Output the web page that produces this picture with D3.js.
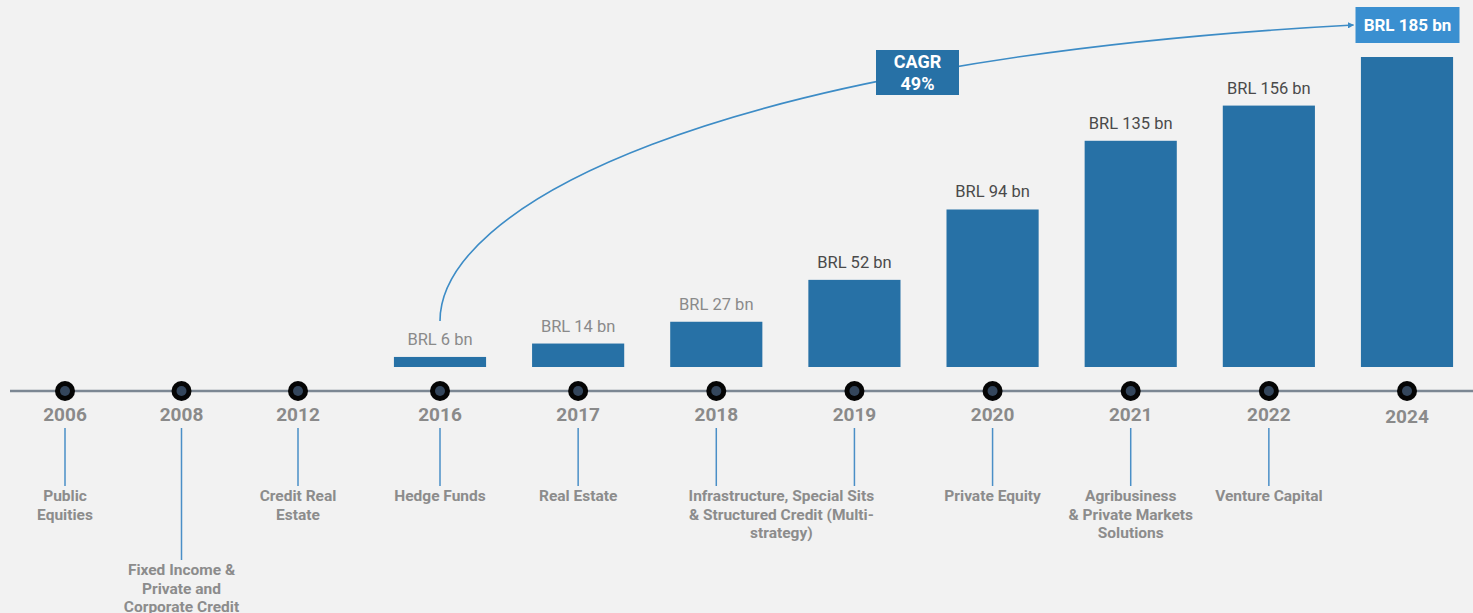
<!DOCTYPE html>
<html lang="en">
<head>
    <meta charset="UTF-8">
    <script src="https://d3js.org/d3.v7.min.js"></script>
    <title>AUM timeline</title>
    <style>
        body { margin: 0; background: #f2f2f2; }
        svg { display: block; font-family: Roboto, "Noto Sans", sans-serif; }
    </style>
</head>
<body>
<script>
// Timeline milestones and the strategy launched each year
const years = ['2006', '2008', '2012', '2016', '2017', '2018', '2019', '2020', '2021', '2022', '2024'];
const strategies = [
    ['Public', 'Equities'],
    ['Fixed Income &', 'Private and', 'Corporate Credit'],
    ['Credit Real', 'Estate'],
    ['Hedge Funds'],
    ['Real Estate'],
    ['Infrastructure, Special Sits', '& Structured Credit (Multi-', 'strategy)'],
    [],
    ['Private Equity'],
    ['Agribusiness', '& Private Markets', 'Solutions'],
    ['Venture Capital'],
    null
];

// AUM in BRL billions
const aumYears = ['2016', '2017', '2018', '2019', '2020', '2021', '2022', '2024'];
const aumValues = [6, 14, 27, 52, 94, 135, 156, 185];
const cagrLabel = ['CAGR', '49%'];

const width = 1473, height = 613;
const axisY = 391;

const svg = d3.select('body').append('svg')
    .attr('width', width)
    .attr('height', height);

svg.append('rect').attr('width', width).attr('height', height).attr('fill', '#f2f2f2');

// x positions: early years are spaced tighter than the AUM years
const xEarly = d3.scalePoint().domain(['2006', '2008', '2012']).range([65, 298]);
const xBars = d3.scalePoint().domain(aumYears).range([440, 1407]);
const xPos = yr => aumYears.includes(yr) ? xBars(yr) : xEarly(yr);

const y = d3.scaleLinear().domain([0, 185]).range([367, 57]);
const barW = xBars.step() * 0.667;

// defs
svg.append('defs').append('marker')
    .attr('id', 'arrowhead')
    .attr('viewBox', '0 0 10 10')
    .attr('refX', 9)
    .attr('refY', 5)
    .attr('markerWidth', 4)
    .attr('markerHeight', 4)
    .attr('orient', 'auto')
    .append('polygon')
    .attr('points', '0 0, 10 5, 0 10')
    .attr('fill', '#3d8cc6');

// bars
const barData = aumYears.map((yr, i) => ({ year: yr, value: aumValues[i] }));

svg.selectAll('rect.bar')
    .data(barData)
    .enter()
    .append('rect')
    .attr('class', 'bar')
    .attr('x', d => xBars(d.year) - barW / 2)
    .attr('y', d => y(d.value))
    .attr('width', barW)
    .attr('height', d => y(0) - y(d.value))
    .attr('fill', '#2771a6');

// value labels (last one goes in the highlighted box)
svg.selectAll('text.val')
    .data(barData.slice(0, -1))
    .enter()
    .append('text')
    .attr('class', 'val')
    .attr('x', d => xBars(d.year))
    .attr('y', d => y(d.value) - 12)
    .attr('text-anchor', 'middle')
    .attr('font-size', 16.5)
    .attr('fill', d => d.value < 30 ? '#8a8a8a' : '#4a4a4a')
    .text(d => `BRL ${d.value} bn`);

// CAGR curve
const last = barData[barData.length - 1];
const boxW = 104, boxH = 36;
const boxX = xBars(last.year) - boxW / 2 + 0.5;
const boxY = y(last.value) - 50;
const x0 = xPos('2016'), y0 = y(aumValues[0]) - 36;
const x1 = boxX - 2, y1 = boxY + boxH / 2;
const curve = d3.path();
curve.moveTo(x0, y0);
curve.bezierCurveTo(x0, 210, 700, 60, x1, y1);

svg.append('path')
    .attr('d', curve.toString())
    .attr('fill', 'none')
    .attr('stroke', '#3d8cc6')
    .attr('stroke-width', 1.6)
    .attr('marker-end', 'url(#arrowhead)');

// CAGR box
const cagrG = svg.append('g').attr('transform', 'translate(876,50)');
cagrG.append('rect').attr('width', 83).attr('height', 45).attr('fill', '#2771a6');
cagrG.selectAll('text')
    .data(cagrLabel)
    .enter()
    .append('text')
    .attr('x', 41.5)
    .attr('y', (d, i) => 18 + i * 22)
    .attr('text-anchor', 'middle')
    .attr('font-size', 18)
    .attr('font-weight', 'bold')
    .attr('fill', '#fff')
    .text(d => d);

// 2024 value box
svg.append('rect')
    .attr('x', boxX)
    .attr('y', boxY)
    .attr('width', boxW)
    .attr('height', boxH)
    .attr('fill', '#3a8fd0');
svg.append('text')
    .attr('x', boxX + boxW / 2)
    .attr('y', boxY + boxH / 2 + 6)
    .attr('text-anchor', 'middle')
    .attr('font-size', 17)
    .attr('font-weight', 'bold')
    .attr('fill', '#fff')
    .text(`BRL ${last.value} bn`);

// timeline axis
svg.append('line')
    .attr('x1', 10).attr('x2', width)
    .attr('y1', axisY).attr('y2', axisY)
    .attr('stroke', '#7c8793')
    .attr('stroke-width', 2.5);

const nodes = svg.selectAll('g.node')
    .data(years.map((yr, i) => ({ year: yr, lines: strategies[i] })))
    .enter()
    .append('g')
    .attr('class', 'node')
    .attr('transform', d => `translate(${xPos(d.year)},0)`);

nodes.append('circle')
    .attr('cy', axisY)
    .attr('r', 10)
    .attr('fill', '#050505');
nodes.append('circle')
    .attr('cy', axisY)
    .attr('r', 5)
    .attr('fill', '#34465c');

nodes.append('text')
    .attr('y', d => d.year === '2024' ? 423 : 421)
    .attr('text-anchor', 'middle')
    .attr('font-size', 19)
    .attr('font-weight', 'bold')
    .attr('fill', '#8a8a8a')
    .text(d => d.year);

// connectors and strategy names
const withLine = nodes.filter(d => d.lines !== null);
const drop = d => d.year === '2008' ? 560 : 486;

withLine.append('line')
    .attr('y1', 428)
    .attr('y2', d => drop(d))
    .attr('stroke', '#4a8fc7')
    .attr('stroke-width', 1.5);

// the multi-strategy label spans the 2018 and 2019 connectors
withLine.each(function(d) {
    const top = drop(d) + 15;
    const dx = d.year === '2018' ? xBars.step() / 2 - 4 : 0;
    d3.select(this).selectAll('text.cat')
        .data(d.lines)
        .enter()
        .append('text')
        .attr('class', 'cat')
        .attr('x', dx)
        .attr('y', (t, i) => top + i * 18.5)
        .attr('text-anchor', 'middle')
        .attr('font-size', 15.5)
        .attr('font-weight', 'bold')
        .attr('fill', '#8c8c8c')
        .text(t => t);
});
</script>
</body>
</html>
